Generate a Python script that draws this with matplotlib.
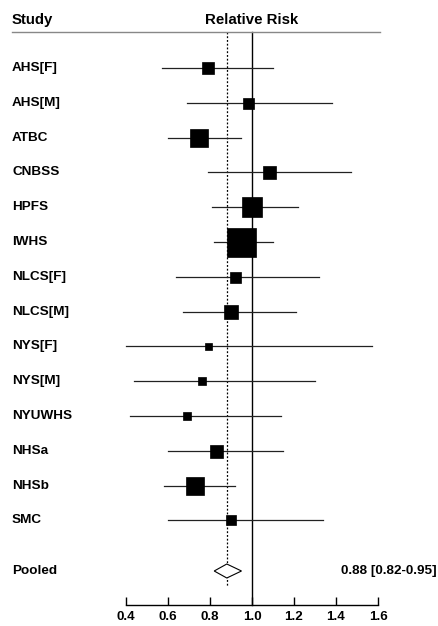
"""Forest plot of relative risk by study (pooled estimate at the bottom)."""

import matplotlib
matplotlib.use("Agg")
import matplotlib.pyplot as plt
from matplotlib.patches import Polygon

# ---------- data -----------------------------------------------------------
studies = ["AHS[F]", "AHS[M]", "ATBC", "CNBSS", "HPFS", "IWHS", "NLCS[F]",
           "NLCS[M]", "NYS[F]", "NYS[M]", "NYUWHS", "NHSa", "NHSb", "SMC"]
rr = [0.79, 0.98, 0.75, 1.08, 1.00, 0.95, 0.92, 0.90, 0.79, 0.76, 0.69,
      0.83, 0.73, 0.90]
ci_low = [0.57, 0.69, 0.60, 0.79, 0.81, 0.82, 0.64, 0.67, 0.40, 0.44, 0.42,
          0.60, 0.58, 0.60]
ci_high = [1.10, 1.38, 0.95, 1.47, 1.22, 1.10, 1.32, 1.21, 1.57, 1.30, 1.14,
           1.15, 0.92, 1.34]
weights = [12, 11, 18, 13, 20, 29, 11, 14, 7, 8, 8, 13, 18, 10]  # box side, px

pooled_rr = 0.88
pooled_low = 0.82
pooled_high = 0.95
xticks = [0.4, 0.6, 0.8, 1.0, 1.2, 1.4, 1.6]

# ---------- layout ---------------------------------------------------------
W, H = 438, 626
fig = plt.figure(figsize=(W / 100, H / 100), dpi=100)
# axes spans x 0.4..1.6 (px 126..378) and y from header line to baseline
top_px, base_px = 32, 605
ax = fig.add_axes([126 / W, (H - base_px) / H, 252 / W, (base_px - top_px) / H])
ax.set_xlim(0.4, 1.6)
ax.set_ylim(base_px, top_px)  # y in pixel rows


def px_to_x(px):
    return 1.0 + (px - 252) / 210.0


row_y = [68 + 34.8 * i for i in range(len(studies))]
pooled_y = 571

label_font = dict(fontweight="bold", fontsize=9.7, family="Liberation Sans")
header_font = dict(fontweight="bold", fontsize=10.8, family="Liberation Sans")

# reference lines
ax.plot([1.0, 1.0], [top_px, base_px], color="black", lw=1.0, clip_on=False)
ax.plot([pooled_rr, pooled_rr], [top_px, 586], color="black", lw=0.9,
        ls=(0, (1.5, 1.5)), clip_on=False)

# study rows
for name, y, m, lo, hi, w in zip(studies, row_y, rr, ci_low, ci_high, weights):
    ax.plot([lo, hi], [y, y], color="#222222", lw=0.9, clip_on=False)
    ax.plot([m], [y], marker="s", ms=w * 0.72, color="black", mec="black",
            mew=0.5, clip_on=False, zorder=3)
    ax.text(px_to_x(12), y, name, ha="left", va="center", **label_font)

# pooled diamond
half_h = 7
diamond = Polygon([[pooled_low, pooled_y], [pooled_rr, pooled_y - half_h],
                   [pooled_high, pooled_y], [pooled_rr, pooled_y + half_h]],
                  closed=True, facecolor="white", edgecolor="black", lw=0.8,
                  zorder=3, clip_on=False)
ax.add_patch(diamond)
ax.text(px_to_x(12), pooled_y, "Pooled", ha="left", va="center", **label_font)
ax.text(px_to_x(437), pooled_y,
        f"{pooled_rr:.2f} [{pooled_low:.2f}-{pooled_high:.2f}]",
        ha="right", va="center", **label_font)

# header
ax.plot([px_to_x(12), px_to_x(380)], [top_px, top_px], color="#888888",
        lw=1.0, clip_on=False)
ax.text(px_to_x(12), 20, "Study", ha="left", va="center", **header_font)
ax.text(1.0, 20, "Relative Risk", ha="center", va="center", **header_font)

# axis
for side in ("top", "left", "right"):
    ax.spines[side].set_visible(False)
ax.spines["bottom"].set_linewidth(1.0)
ax.set_yticks([])
ax.set_xticks(xticks)
ax.set_xticklabels([f"{t:.1f}" for t in xticks])
ax.tick_params(axis="x", direction="in", length=6, width=1.0, pad=4.5)
for lbl in ax.get_xticklabels():
    lbl.set_fontweight("bold")
    lbl.set_fontsize(9.6)
    lbl.set_family("Liberation Sans")
ax.patch.set_alpha(0)

fig.savefig("out.png", dpi=100)
